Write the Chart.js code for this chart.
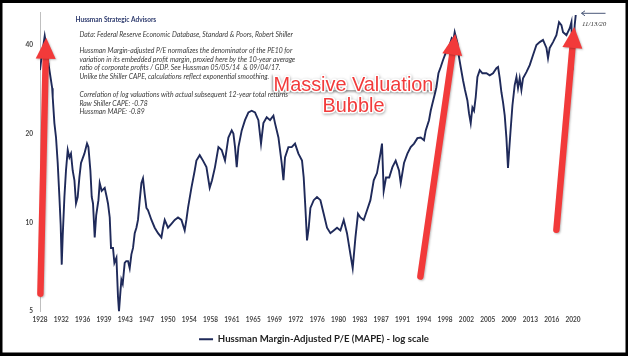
<!DOCTYPE html>
<html><head><meta charset="utf-8">
<script src="https://cdn.jsdelivr.net/npm/chart.js@4.4.1/dist/chart.umd.min.js"></script>
<style>html,body{margin:0;padding:0;background:#fff;}canvas{display:block;}</style>
</head><body>
<canvas id="c" width="628" height="356"></canvas>
<script>
// ---- data (decimal year, MAPE value) ----
const years = [
1928.90,1929.11,1929.36,1929.71,1929.96,1930.14,1930.34,1930.57,1930.79,1930.99,
1931.08,1931.37,1931.65,1931.94,1932.23,1932.45,1932.63,1932.80,1933.09,1933.36,
1933.66,1933.95,1934.22,1934.51,1934.81,1935.08,1935.37,1935.66,1935.94,1936.52,
1936.97,1937.21,1937.55,1937.78,1938.00,1938.29,1938.55,1938.93,1939.15,1939.49,
1940.01,1940.35,1940.57,1940.87,1941.09,1941.43,1941.67,1942.02,1942.29,1942.46,
1942.67,1942.87,1943.10,1943.44,1943.70,1944.01,1944.30,1944.59,1944.87,1945.16,
1945.45,1945.72,1946.02,1946.31,1946.58,1946.87,1947.17,1947.44,1947.73,1948.03,
1948.59,1949.16,1949.74,1950.02,1950.31,1950.87,1951.46,1952.03,1952.59,1953.18,
1953.74,1954.03,1954.31,1954.89,1955.46,1955.75,1956.32,1956.88,1957.47,1958.03,
1958.43,1958.94,1959.53,1960.09,1960.66,1961.24,1961.81,1962.10,1962.38,1962.67,
1962.96,1963.53,1964.09,1964.68,1965.24,1965.81,1966.39,1966.84,1967.25,1967.82,
1968.39,1968.97,1969.24,1969.83,1970.39,1970.69,1970.96,1971.54,1972.11,1972.68,
1973.26,1973.88,1974.17,1974.46,1974.74,1975.03,1975.32,1975.89,1976.45,1977.04,
1977.60,1978.17,1978.75,1979.32,1979.89,1980.47,1981.04,1981.60,1982.19,1982.58,
1983.05,1983.49,1983.90,1984.47,1985.04,1985.62,1986.19,1986.75,1987.34,1987.61,
1987.90,1988.30,1988.85,1989.40,1989.96,1990.53,1990.82,1991.39,1991.97,1992.54,
1993.11,1993.69,1994.26,1994.82,1995.12,1995.68,1995.97,1996.27,1996.71,1996.95,
1997.30,1997.69,1998.09,1998.55,1999.12,1999.58,1999.87,2000.09,2000.56,2000.83,
2001.12,2001.52,2001.86,2002.27,2002.55,2002.84,2003.13,2003.41,2003.70,2003.99,
2004.39,2004.85,2005.54,2006.10,2006.67,2007.25,2007.53,2007.82,2008.11,2008.39,
2008.68,2008.97,2009.24,2009.42,2009.66,2010.00,2010.39,2010.69,2010.96,2011.25,
2011.54,2011.82,2012.40,2012.97,2013.54,2014.12,2014.69,2015.25,2015.84,2016.11,
2016.40,2016.97,2017.55,2018.00,2018.41,2018.69,2019.27,2019.84,2020.13,2020.30,
2020.52,2020.69,2020.87
];
const mape = [
32.8,35.5,38.4,42.8,39.9,37.5,34.6,32.3,30.3,28.5,
26.6,21.7,19.4,15.9,12.2,9.8,7.2,9.0,12.2,15.0,
17.6,16.6,17.1,15.0,13.9,11.6,12.2,14.2,15.9,17.1,
18.5,18.0,15.0,12.2,11.6,8.9,10.6,11.9,13.6,12.8,
13.1,12.2,11.6,10.4,8.2,8.2,7.3,7.6,5.6,5.0,
5.7,6.4,6.2,7.3,7.4,7.4,7.0,7.8,8.2,9.2,
9.6,10.2,11.9,13.6,14.1,12.5,11.2,11.0,10.6,10.2,
9.6,9.2,8.9,9.6,10.2,9.6,9.9,10.2,10.4,10.2,
9.4,10.2,11.2,13.1,15.0,16.2,16.9,16.2,15.4,13.1,
13.9,15.4,18.0,17.6,16.2,19.4,20.5,20.0,18.0,15.4,
18.0,20.5,22.2,23.6,23.9,23.6,22.2,18.5,21.7,22.7,
22.2,23.0,21.7,19.4,15.9,13.9,16.6,18.0,18.0,18.5,
17.1,16.2,14.2,11.2,8.7,9.6,11.2,11.9,12.2,11.9,
10.7,9.6,9.2,9.4,9.6,9.4,10.2,9.2,7.8,7.0,
8.9,10.7,10.4,10.2,11.0,11.9,13.9,14.7,17.1,18.5,
12.8,14.2,14.2,15.4,16.2,15.0,13.6,15.9,17.1,18.0,
18.5,19.3,19.4,19.0,20.5,22.2,23.9,25.3,27.4,28.7,
32.0,33.6,35.5,37.5,39.3,42.1,41.5,44.1,40.5,36.3,
33.6,30.3,28.1,25.9,23.4,21.7,24.5,23.9,26.6,31.1,
32.8,32.0,32.0,31.5,32.0,33.3,33.6,30.8,27.6,25.5,
23.0,19.3,15.3,17.3,20.2,24.9,29.2,31.1,28.5,30.8,
28.1,30.8,32.3,34.1,36.9,39.9,40.8,41.5,39.0,36.0,
39.0,40.8,43.1,47.7,46.6,44.1,43.1,45.5,47.7,32.8,
39.9,46.6,50.4
];
const xTickLabels = ['1928','1932','1936','1939','1943','1947','1950','1954','1958','1961','1965','1969','1972',
  '1976','1980','1983','1987','1991','1994','1998','2002','2005','2009','2013','2016','2020'];
const xTickStart = 1928.9, xTickStep = 3.66, xAxisEnd = 2029.84;
const yTickValues = [5, 10, 20, 40];
const seriesLabel = 'Hussman Margin-Adjusted P/E (MAPE) - log scale';
const noteTitle = 'Hussman Strategic Advisors';
const noteLines = [
  'Data: Federal Reserve Economic Database, Standard & Poors, Robert Shiller',
  '',
  'Hussman Margin-adjusted P/E normalizes the denominator of the PE10 for',
  'variation in its embedded profit margin, proxied here by the 10-year average',
  'ratio of corporate profits / GDP. See Hussman 05/05/14  & 09/04/17.',
  'Unlike the Shiller CAPE, calculations reflect exponential smoothing.',
  '',
  'Correlation of log valuations with actual subsequent 12-year total returns',
  'Raw Shiller CAPE: -0.78',
  'Hussman MAPE: -0.89'
];
const bubbleText = ['Massive Valuation', 'Bubble'];
const lastDateLabel = '11/13/20';
// arrows in data coordinates: [fromYear, fromValue, toYear, toValue]
const bubbleArrows = [
  [1928.97, 5.74, 1929.96, 42.2],
  [1994.20, 6.56, 2000.18, 43.5],
  [2017.55, 9.45, 2020.61, 45.9]
];

const NAVY = '#1f2a5a';
const RED = '#f23a3a';

function drawArrow(ctx, x0, y0, x1, y1, shaftW, headLen, headW) {
  const ang = Math.atan2(y1 - y0, x1 - x0);
  const bx = x1 - headLen * Math.cos(ang), by = y1 - headLen * Math.sin(ang);
  ctx.lineWidth = shaftW; ctx.lineCap = 'round';
  ctx.beginPath(); ctx.moveTo(x0, y0); ctx.lineTo(bx, by); ctx.stroke();
  const px = -Math.sin(ang), py = Math.cos(ang);
  ctx.beginPath(); ctx.moveTo(x1, y1);
  ctx.lineTo(bx + px * headW / 2, by + py * headW / 2);
  ctx.lineTo(bx - px * headW / 2, by - py * headW / 2);
  ctx.closePath(); ctx.fill();
}
function fitFont(ctx, style, family, text, targetW, base) {
  ctx.font = style + ' ' + base + 'px ' + family;
  const w = ctx.measureText(text).width;
  return base * targetW / w;
}

const annotations = {
  id: 'annotations',
  afterDatasetsDraw(chart) {
    const ctx = chart.ctx, xs = chart.scales.x, ys = chart.scales.y;
    ctx.save();
    // notes
    let fs = fitFont(ctx, 'bold', 'Lato', noteTitle, 81, 7);
    ctx.font = 'bold ' + fs + 'px Lato';
    ctx.fillStyle = '#2e3b6e'; ctx.textBaseline = 'middle'; ctx.textAlign = 'left';
    ctx.fillText(noteTitle, 75.5, 19.5);
    fs = fitFont(ctx, 'italic', 'Lato', noteLines[0], 214, 6.5);
    ctx.font = 'italic ' + fs + 'px Lato';
    ctx.fillStyle = '#3a3a3a';
    const ly = [34.3, 42.6, 51, 59.3, 67.7, 76.3, 85.6, 95, 103.5, 112];
    noteLines.forEach((t, i) => { if (t) ctx.fillText(t, 79.5, ly[i]); });

    // bubble text box
    ctx.save();
    ctx.shadowColor = 'rgba(0,0,0,0.35)'; ctx.shadowBlur = 2; ctx.shadowOffsetX = -1.5; ctx.shadowOffsetY = 1.5;
    ctx.fillStyle = '#fff';
    ctx.fillRect(273, 73, 162, 17);
    ctx.restore();
    fs = fitFont(ctx, '', 'Liberation Sans', bubbleText[0], 160, 20);
    ctx.font = fs + 'px "Liberation Sans"';
    ctx.textAlign = 'center'; ctx.textBaseline = 'alphabetic';
    [[bubbleText[0], 90.5], [bubbleText[1], 111.8]].forEach(([t, y]) => {
      ctx.save();
      ctx.shadowColor = 'rgba(0,0,0,0.35)'; ctx.shadowBlur = 3; ctx.shadowOffsetX = 0.5; ctx.shadowOffsetY = 1;
      ctx.lineJoin = 'round'; ctx.strokeStyle = '#fff'; ctx.lineWidth = 3;
      ctx.strokeText(t, 353.5, y);
      ctx.restore();
      ctx.fillStyle = RED;
      ctx.fillText(t, 353.5, y);
    });

    // red arrows
    ctx.save();
    ctx.shadowColor = 'rgba(0,0,0,0.25)'; ctx.shadowBlur = 2; ctx.shadowOffsetX = 1; ctx.shadowOffsetY = 1;
    ctx.strokeStyle = RED; ctx.fillStyle = RED;
    bubbleArrows.forEach(a => {
      drawArrow(ctx, xs.getPixelForValue(a[0]), ys.getPixelForValue(a[1]),
        xs.getPixelForValue(a[2]), ys.getPixelForValue(a[3]), 6.5, 21, 20);
    });
    ctx.restore();

    // last date marker
    ctx.strokeStyle = '#4a5878'; ctx.lineWidth = 1; ctx.lineCap = 'butt';
    ctx.beginPath(); ctx.moveTo(605.5, 13.3); ctx.lineTo(581.5, 13.3);
    ctx.moveTo(585, 10.8); ctx.lineTo(581.5, 13.3); ctx.lineTo(585, 15.8); ctx.stroke();
    ctx.font = 'italic 7px "Liberation Serif"';
    ctx.fillStyle = '#333'; ctx.textAlign = 'left'; ctx.textBaseline = 'middle';
    ctx.fillText(lastDateLabel, 582, 24);
    ctx.restore();
  },
  afterDraw(chart) {
    const ctx = chart.ctx;
    ctx.save();
    ctx.fillStyle = '#000';
    ctx.fillRect(0, 0, 628, 3);
    ctx.fillRect(0, 0, 2.5, 356);
    ctx.fillRect(625.5, 0, 2.5, 356);
    ctx.fillRect(0, 352.5, 628, 3.5);
    ctx.restore();
  }
};

new Chart(document.getElementById('c'), {
  type: 'line',
  data: {
    datasets: [{
      label: seriesLabel,
      data: years.map((t, i) => ({ x: t, y: mape[i] })),
      borderColor: NAVY, backgroundColor: NAVY,
      borderWidth: 1.9, pointRadius: 0, tension: 0, fill: false
    }]
  },
  options: {
    responsive: false, animation: false, devicePixelRatio: 1,
    layout: { padding: { top: 12, right: 0, left: 0, bottom: 2 } },
    plugins: {
      legend: {
        position: 'bottom',
        labels: {
          usePointStyle: true, pointStyle: 'line', pointStyleWidth: 14, boxHeight: 10,
          font: { family: 'Lato', size: 9.6, weight: 'bold' }, color: '#222', padding: 8
        }
      },
      tooltip: { enabled: false }
    },
    scales: {
      x: {
        type: 'linear', min: xTickStart, max: xAxisEnd,
        afterBuildTicks: s => { s.ticks = xTickLabels.map((_, i) => ({ value: xTickStart + i * xTickStep })); },
        afterFit: s => { s.height = 15; },
        ticks: {
          autoSkip: false, maxRotation: 0, padding: 5,
          font: { family: 'Lato', size: 6.5, weight: 'bold' }, color: '#444',
          callback: (v, i) => xTickLabels[i]
        },
        grid: { display: false, drawTicks: false },
        border: { display: false }
      },
      y: {
        type: 'logarithmic', min: 5, max: 51.6,
        afterBuildTicks: s => { s.ticks = yTickValues.map(v => ({ value: v })); },
        afterFit: s => { s.width = 40; },
        ticks: {
          padding: 7, font: { family: 'Lato', size: 6.5, weight: 'bold' }, color: '#444',
          callback: v => String(v)
        },
        grid: { display: false, drawTicks: false },
        border: { display: true, color: '#bfbfbf', width: 1 }
      }
    }
  },
  plugins: [annotations]
});
</script>
</body></html>
